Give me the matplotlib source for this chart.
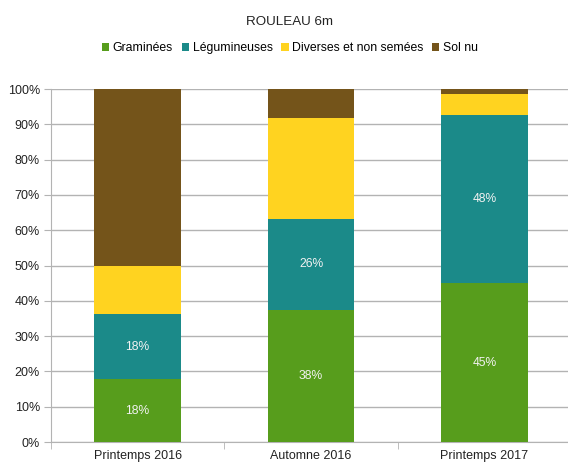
import matplotlib
matplotlib.use("Agg")
import matplotlib.pyplot as plt
import numpy as np

plt.rcParams['font.family'] = ['Liberation Sans', 'DejaVu Sans']

categories = ["Printemps 2016", "Automne 2016", "Printemps 2017"]
series_names = ["Graminées", "Légumineuses", "Diverses et non semées", "Sol nu"]
graminees = [17.8, 37.5, 45.0]
legumineuses = [18.5, 25.7, 47.6]
diverses = [13.6, 28.6, 6.0]
sol_nu = [50.1, 8.2, 1.4]
labelled = [True, True, False, False]
colors = ["#579d1c", "#1b8a89", "#ffd320", "#74541a"]

fig = plt.figure(figsize=(5.68, 4.65), dpi=100)
ax = fig.add_axes([51/568, 1-442/465, 520/568, (442-89)/465])

x = np.arange(len(categories))
bottom = np.zeros(len(categories))
for name, vals, col, lab in zip(series_names, [graminees, legumineuses, diverses, sol_nu], colors, labelled):
    vals = np.array(vals)
    ax.bar(x, vals, 0.5, bottom=bottom, color=col, label=name, zorder=3)
    if lab:
        for xi, b, v in zip(x, bottom, vals):
            ax.text(xi, b + v/2, f"{v:.0f}%", ha='center', va='center',
                    color='#f2f2f2', fontsize=8.7, zorder=4)
    bottom += vals

ax.set_xlim(-0.5, 2.5)
ax.set_ylim(0, 100)
ax.set_yticks(np.arange(0, 101, 10))
ax.set_yticklabels([f"{v}%" for v in range(0, 101, 10)], fontsize=9, color='#222222')
ax.set_xticks(x)
ax.set_xticklabels(categories, fontsize=9, color='#222222')
ax.set_xticks([-0.5, 0.5, 1.5, 2.5], minor=True)
ax.tick_params(axis='x', which='major', length=0, pad=6)
ax.tick_params(axis='x', which='minor', length=5, color='#b3b3b3')
ax.tick_params(axis='y', length=5, color='#b3b3b3', pad=3)
ax.grid(axis='y', color='#b3b3b3', linewidth=1, zorder=0)
for s in ['top', 'right']:
    ax.spines[s].set_visible(False)
for s in ['left', 'bottom']:
    ax.spines[s].set_color('#b3b3b3')
ax.set_axisbelow(True)

fig.text(290/568, 1-22/465, "ROULEAU 6m", ha='center', va='center', fontsize=9.6, color='#222222')
fig.legend(loc='center', bbox_to_anchor=(290/568, 1-48/465), ncol=4, frameon=False,
           fontsize=8.8, handlelength=0.6, handleheight=0.6, handletextpad=0.3,
           columnspacing=0.7, borderpad=0, borderaxespad=0)

fig.savefig("out.png", dpi=100)
